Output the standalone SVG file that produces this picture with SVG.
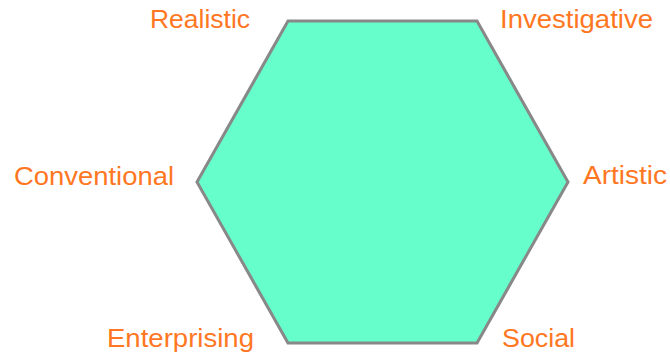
<svg xmlns="http://www.w3.org/2000/svg" width="670" height="358" viewBox="0 0 670 358">
<style>
.lbl{font-family:"Liberation Sans",Arial,sans-serif;font-size:25px;fill:#FF7722}
.hex{fill:#66FFCC;stroke:#888888;stroke-width:3;stroke-linejoin:miter}
</style>
<rect width="670" height="358" fill="#FFFFFF"/>
<g id="hexagon">
<polygon class="hex" points="288,21 477,21 568,182 477,343 288,343 197,182"/>
</g>
<g id="connectors"></g>
<g id="realistic"><text class="lbl" x="150" y="28" textLength="100" lengthAdjust="spacingAndGlyphs">Realistic</text></g>
<g id="investigative"><text class="lbl" x="500" y="28" textLength="153" lengthAdjust="spacingAndGlyphs">Investigative</text></g>
<g id="conventional"><text class="lbl" x="14" y="185" textLength="160" lengthAdjust="spacingAndGlyphs">Conventional</text></g>
<g id="artistic"><text class="lbl" x="583" y="184" textLength="84" lengthAdjust="spacingAndGlyphs">Artistic</text></g>
<g id="enterprising"><text class="lbl" x="107" y="347" textLength="147" lengthAdjust="spacingAndGlyphs">Enterprising</text></g>
<g id="social"><text class="lbl" x="502" y="347" textLength="73" lengthAdjust="spacingAndGlyphs">Social</text></g>
</svg>
